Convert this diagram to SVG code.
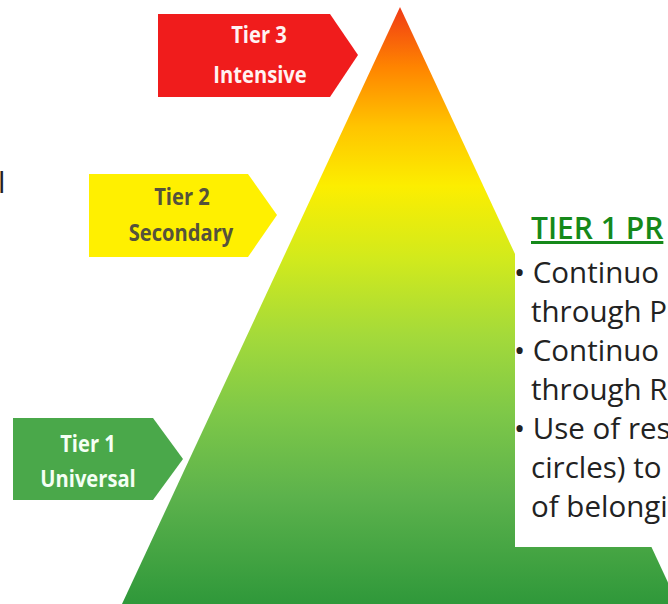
<svg xmlns="http://www.w3.org/2000/svg" width="668" height="604" viewBox="0 0 668 604">
  <defs>
    <linearGradient id="pyr" gradientUnits="userSpaceOnUse" x1="0" y1="7" x2="0" y2="604">
      <stop offset="0" stop-color="#f03a16"/>
      <stop offset="0.1" stop-color="#ff8400"/>
      <stop offset="0.2" stop-color="#ffc400"/>
      <stop offset="0.3" stop-color="#fcee00"/>
      <stop offset="0.42" stop-color="#d2ea1c"/>
      <stop offset="0.55" stop-color="#a4da3a"/>
      <stop offset="0.68" stop-color="#7ec848"/>
      <stop offset="0.82" stop-color="#5cb24c"/>
      <stop offset="1" stop-color="#2f983a"/>
    </linearGradient>
  </defs>
  <style>
    .lbl { font-family: "Open Sans", "DejaVu Sans", sans-serif; font-weight: bold; font-size: 24px; text-anchor: middle; }
    .body { font-family: "Open Sans", "DejaVu Sans", sans-serif; font-size: 29.5px; fill: #222222; }
    .head { font-family: "Open Sans", "DejaVu Sans", sans-serif; font-weight: 600; font-size: 30px; fill: #15891a; text-decoration: underline; }
  </style>
  <rect x="0" y="0" width="668" height="604" fill="#ffffff"/>

  <g id="pyramid">
    <polygon points="400,7 122,604 678,604" fill="url(#pyr)"/>
  </g>

  <g id="tier3">
    <polygon points="158,14 330,14 358,55 330,97 158,97" fill="#f01c1c"/>
    <text class="lbl" fill="#fff2f2" transform="translate(259 0) scale(0.84 1)" x="0" y="43">Tier 3</text>
    <text class="lbl" fill="#fff2f2" transform="translate(260 0) scale(0.84 1)" x="0" y="83">Intensive</text>
  </g>

  <g id="tier2">
    <polygon points="89,174 248,174 277,215 248,257 89,257" fill="#fff000"/>
    <text class="lbl" fill="#55523c" transform="translate(182 0) scale(0.84 1)" x="0" y="205">Tier 2</text>
    <text class="lbl" fill="#55523c" transform="translate(181 0) scale(0.84 1)" x="0" y="241">Secondary</text>
  </g>

  <g id="tier1">
    <polygon points="13,418 153,418 183,459 153,500 13,500" fill="#4aa84a"/>
    <text class="lbl" fill="#f4fff4" transform="translate(88 0) scale(0.84 1)" x="0" y="452">Tier 1</text>
    <text class="lbl" fill="#f4fff4" transform="translate(88 0) scale(0.84 1)" x="0" y="487">Universal</text>
  </g>

  <g id="practices">
    <rect x="515" y="200" width="160" height="347" fill="#ffffff"/>
    <text class="head" x="531" y="239">TIER 1 PR</text>
    <text class="body" x="514" y="283">• Continuo</text>
    <text class="body" x="531" y="322">through P</text>
    <text class="body" x="514" y="361">• Continuo</text>
    <text class="body" x="531" y="400">through R</text>
    <text class="body" x="514" y="439">• Use of res</text>
    <text class="body" x="531" y="478">circles) to</text>
    <text class="body" x="531" y="517">of belongi</text>
  </g>

  <g id="edge-fragment">
    <text class="body" fill="#333333" x="-2" y="193">l</text>
  </g>

  <g id="connectors"></g>
</svg>
